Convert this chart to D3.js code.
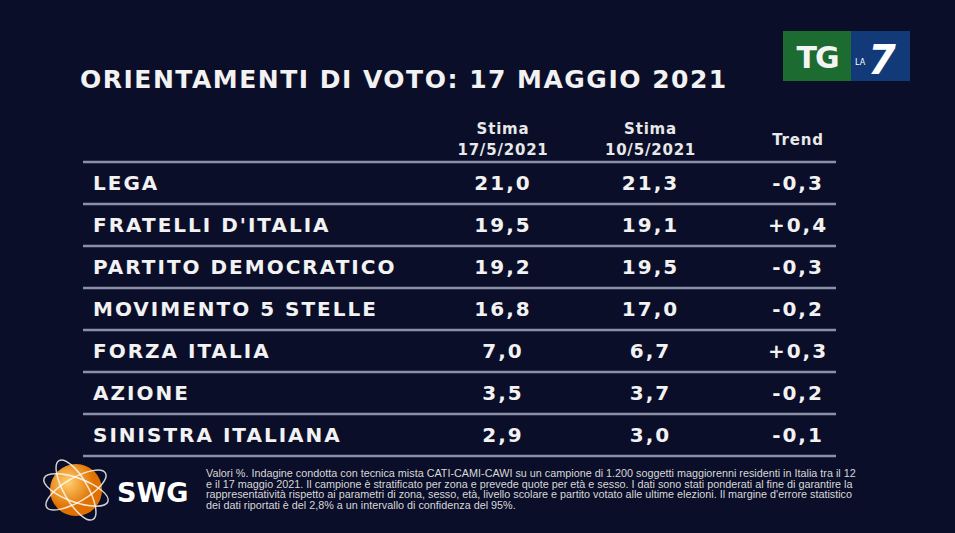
<!DOCTYPE html><html><head><meta charset="utf-8"><script src="https://cdn.jsdelivr.net/npm/d3@7"></script>
<style>body{margin:0;background:#0b0e29}</style></head><body><svg id="c" width="955" height="533"></svg>
<script>
const parties=["LEGA","FRATELLI D'ITALIA","PARTITO DEMOCRATICO","MOVIMENTO 5 STELLE","FORZA ITALIA","AZIONE","SINISTRA ITALIANA"];
const stima17=[21.0,19.5,19.2,16.8,7.0,3.5,2.9];
const stima10=[21.3,19.1,19.5,17.0,6.7,3.7,3.0];
const trend=[-0.3,0.4,-0.3,-0.2,0.3,-0.2,-0.1];
const headers=[["Stima","17/5/2021"],["Stima","10/5/2021"],["","Trend"]];
const note=["Valori %. Indagine condotta con tecnica mista CATI-CAMI-CAWI su un campione di 1.200 soggetti maggiorenni residenti in Italia tra il 12",
"e il 17 maggio 2021. Il campione è stratificato per zona e prevede quote per età e sesso. I dati sono stati ponderati al fine di garantire la",
"rappresentatività rispetto ai parametri di zona, sesso, età, livello scolare e partito votato alle ultime elezioni. Il margine d'errore statistico",
"dei dati riportati è del 2,8% a un intervallo di confidenza del 95%."];
const svg=d3.select("#c");
const F="DejaVu Sans, Verdana, sans-serif";
svg.append("rect").attr("width",955).attr("height",533).attr("fill","#0b0e29");
svg.append("text").attr("x",80).attr("y",88).attr("font-family",F).attr("font-weight","bold").attr("font-size",25).attr("letter-spacing",1.5).attr("fill","#f2f2f2").text("ORIENTAMENTI DI VOTO: 17 MAGGIO 2021");
const y=d3.scaleBand().domain(parties).range([162,456]);
const x=d3.scalePoint().domain([0,1,2]).range([503,798]);
const fmt=v=>v.toFixed(1).replace(".",",");
const fmtT=v=>(v>0?"+":"")+fmt(v);
svg.selectAll("line.r").data([162,...parties.map(p=>y(p)+y.bandwidth())]).join("line")
 .attr("x1",83).attr("x2",836).attr("y1",d=>d).attr("y2",d=>d).attr("stroke","#8c90a6").attr("stroke-width",2.5);
headers.forEach((h,i)=>{
 const g=svg.append("g").attr("font-family",F).attr("font-weight","bold").attr("font-size",15).attr("letter-spacing",0.8).attr("fill","#e8e8e8").attr("text-anchor","middle");
 g.append("text").attr("x",x(i)).attr("y",i==2?145:134).text(i==2?h[1]:h[0]);
 if(i<2)g.append("text").attr("x",x(i)).attr("y",155).text(h[1]);
});
const rows=svg.selectAll("g.row").data(parties).join("g").attr("transform",p=>`translate(0,${y(p)+y.bandwidth()/2+7})`)
 .attr("font-family",F).attr("font-weight","bold").attr("font-size",20).attr("letter-spacing",2).attr("fill","#f2f2f2");
rows.append("text").attr("x",93).text(d=>d);
rows.append("text").attr("x",x(0)).attr("text-anchor","middle").text((d,i)=>fmt(stima17[i]));
rows.append("text").attr("x",x(1)).attr("text-anchor","middle").text((d,i)=>fmt(stima10[i]));
rows.append("text").attr("x",x(2)).attr("text-anchor","middle").text((d,i)=>fmtT(trend[i]));
svg.append("g").selectAll("text").data(note).join("text").attr("x",206).attr("y",(d,i)=>477+i*10.5)
 .attr("font-family","Liberation Sans, sans-serif").attr("font-size",10.8).attr("fill","#d8d8d8").text(d=>d);
const lg=svg.append("g").attr("transform","translate(76,490)");
const grad=svg.append("defs").append("radialGradient").attr("id","og").attr("cx","35%").attr("cy","35%");
grad.append("stop").attr("offset","0%").attr("stop-color","#ffd070");grad.append("stop").attr("offset","100%").attr("stop-color","#e07000");
lg.append("circle").attr("r",26).attr("fill","url(#og)");
[-30,20,60].forEach(a=>lg.append("ellipse").attr("rx",34).attr("ry",12).attr("transform",`rotate(${a})`).attr("fill","none").attr("stroke","#fff").attr("stroke-width",1.5).attr("opacity",0.8));
svg.append("text").attr("x",117).attr("y",502).attr("font-family",F).attr("font-weight","bold").attr("font-size",27).attr("fill","#fff").text("SWG");
svg.append("rect").attr("x",783).attr("y",31).attr("width",68).attr("height",50).attr("fill","#1c6b31");
svg.append("rect").attr("x",851).attr("y",31).attr("width",59).attr("height",50).attr("fill","#123a78");
svg.append("text").attr("x",817).attr("y",68).attr("text-anchor","middle").attr("font-family",F).attr("font-weight","bold").attr("font-size",30).attr("fill","#f4f4f4").attr("letter-spacing",-2).text("TG");
svg.append("text").attr("x",855).attr("y",65).attr("font-family",F).attr("font-size",8).attr("fill","#fff").text("LA");
svg.append("text").attr("x",868).attr("y",74).attr("font-family",F).attr("font-weight","bold").attr("font-style","italic").attr("font-size",40).attr("fill","#fff").text("7");
</script></body></html>
